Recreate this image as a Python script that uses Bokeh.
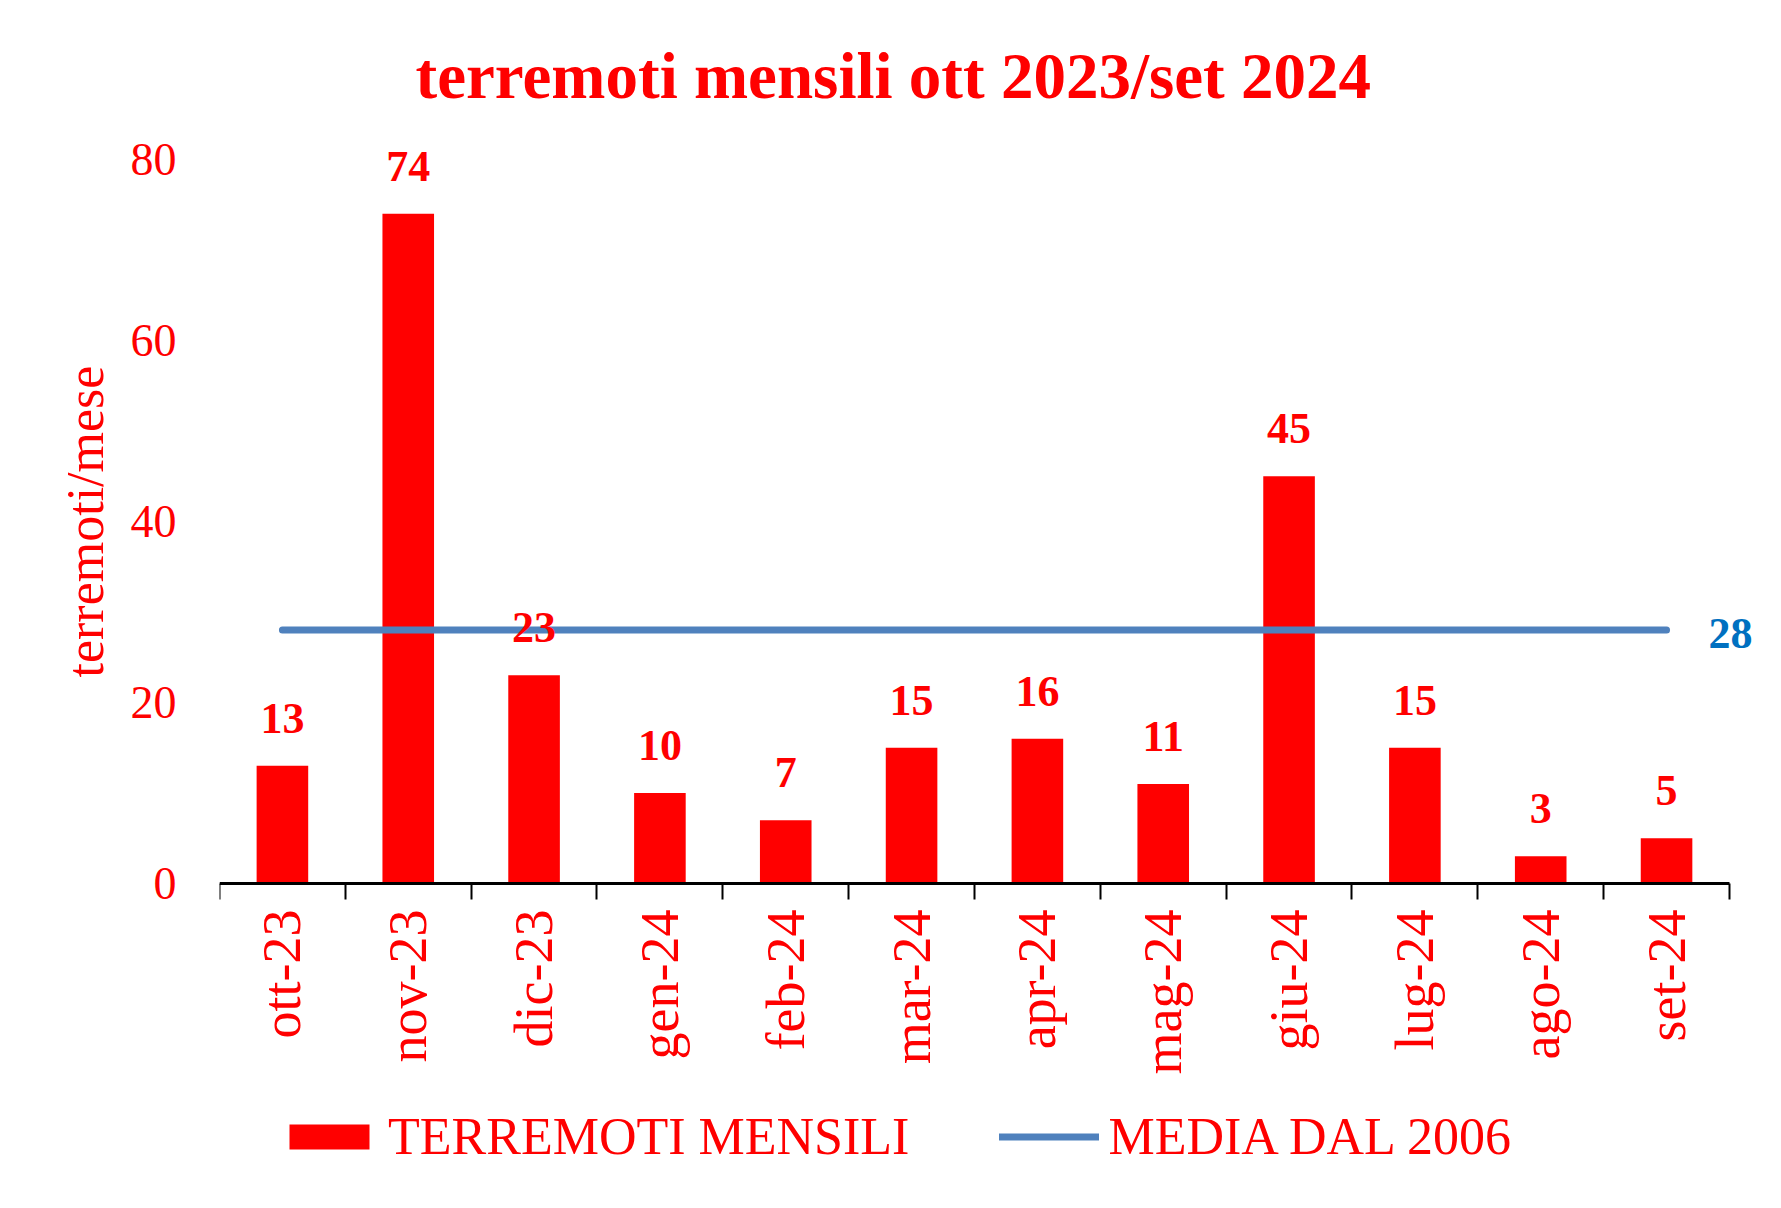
import numpy as np
from bokeh.plotting import figure
from bokeh.models import (ColumnDataSource, FixedTicker, Legend, LegendItem,
                          Label, LabelSet, Range1d, Title)
from bokeh.core.properties import value
from bokeh.embed import file_html
from bokeh.resources import INLINE

# ---- data ----
months = ["ott-23", "nov-23", "dic-23", "gen-24", "feb-24", "mar-24",
          "apr-24", "mag-24", "giu-24", "lug-24", "ago-24", "set-24"]
terremoti = [13, 74, 23, 10, 7, 15, 16, 11, 45, 15, 3, 5]
media_dal_2006 = 28
y_ticks = [0, 20, 40, 60, 80]
title_text = "terremoti mensili ott 2023/set 2024"
y_label = "terremoti/mese"
bar_label = "TERREMOTI MENSILI"
line_label = "MEDIA DAL 2006"

FONT = "Liberation Serif"
RED = "#FF0000"
BLUE_LINE = "#4F81BD"
BLUE_TEXT = "#0070C0"

W, H = 1781, 1208
n = len(months)
centers = [i + 0.5 for i in range(n)]
bounds = list(range(n + 1))

src = ColumnDataSource(dict(x=centers, top=terremoti,
                            label=[str(v) for v in terremoti]))

PX_X = 1510 / n          # pixels per category
PX_Y = 724 / 80          # pixels per unit
AXIS_Y = 883             # screen y of the value 0
FRAME_TOP = 147
x_end = 12.35
frame_w = int(round(x_end * PX_X))
frame_h = H - FRAME_TOP
y_end = (AXIS_Y - FRAME_TOP) / PX_Y
y_start = -(H - AXIS_Y) / PX_Y

p = figure(frame_width=frame_w, frame_height=frame_h,
           x_range=Range1d(0, x_end), y_range=Range1d(y_start, y_end),
           output_backend="svg", toolbar_location=None,
           min_border_left=219, min_border_right=W - 219 - frame_w,
           min_border_top=FRAME_TOP, min_border_bottom=0,
           background_fill_color="white", border_fill_color="white",
           outline_line_color=None)

# title
p.title.text = title_text
p.title.text_font = FONT
p.title.text_font_size = "65px"
p.title.text_font_style = "bold"
p.title.text_color = RED
p.title.align = "left"
p.title.offset = 196
p.title.standoff = 72

p.xgrid.visible = False
p.ygrid.visible = False

# x axis (sits at value 0 inside the frame)
xa = p.xaxis[0]
xa.fixed_location = 0
xa.bounds = (bounds[0], bounds[-1])
xa.ticker = FixedTicker(ticks=centers, minor_ticks=bounds)
xa.major_label_overrides = {c: m for c, m in zip(centers, months)}
xa.major_tick_out = 0
xa.major_tick_in = 0
xa.minor_tick_out = 16
xa.minor_tick_in = 0
xa.minor_tick_line_width = 2
xa.minor_tick_line_color = "black"
xa.axis_line_width = 3
xa.axis_line_color = "black"
xa.major_label_orientation = np.pi / 2
xa.major_label_text_font = FONT
xa.major_label_text_font_size = "54px"
xa.major_label_text_color = RED
xa.major_label_standoff = 10

# y axis
ya = p.yaxis[0]
ya.bounds = (y_ticks[0], y_ticks[-1])
ya.ticker = FixedTicker(ticks=y_ticks)
ya.axis_line_color = None
ya.major_tick_out = 0
ya.major_tick_in = 0
ya.minor_tick_out = 0
ya.minor_tick_in = 0
ya.major_label_standoff = 43
ya.major_label_text_font = FONT
ya.major_label_text_font_size = "46px"
ya.major_label_text_color = RED

# y axis title, centred on the 0-80 span
label_len = 312          # approx. rendered length of the y title in px
span_mid = (y_ticks[0] + y_ticks[-1]) / 2
ytitle = Title(text=y_label, align="left",
               offset=(span_mid - y_start) * PX_Y - label_len / 2,
               standoff=27,
               text_font=FONT, text_font_size="52px",
               text_font_style="normal", text_color=RED)
p.add_layout(ytitle, "left")

# glyphs
r_bar = p.vbar(x="x", top="top", width=0.41, source=src,
               fill_color=RED, line_color=None)
r_line = p.line(x=[centers[0], centers[-1]], y=[media_dal_2006] * 2,
                line_width=7, line_color=BLUE_LINE, line_cap="round")

labels = LabelSet(x="x", y="top", text="label", source=src, y_offset=33,
                  text_align="center", text_baseline="alphabetic",
                  text_font=value(FONT), text_font_size="44px",
                  text_font_style="bold", text_color=RED)
p.add_layout(labels)

media_lbl = Label(x=centers[-1], y=media_dal_2006, text=str(media_dal_2006),
                  x_offset=42, y_offset=-3, text_align="left",
                  text_baseline="alphabetic", text_font=FONT,
                  text_font_size="44px", text_font_style="bold",
                  text_color=BLUE_TEXT)
p.add_layout(media_lbl)

legend = Legend(items=[LegendItem(label=bar_label, renderers=[r_bar]),
                       LegendItem(label=line_label, renderers=[r_line])],
                orientation="horizontal", location=(60, 42),
                glyph_width=100, glyph_height=31, spacing=90,
                label_standoff=9, padding=0, margin=0,
                border_line_color=None, background_fill_alpha=0,
                label_text_font=FONT, label_text_font_size="52px",
                label_text_color=RED)
p.add_layout(legend, "center")

open("out.html", "w").write(file_html(p, INLINE))
